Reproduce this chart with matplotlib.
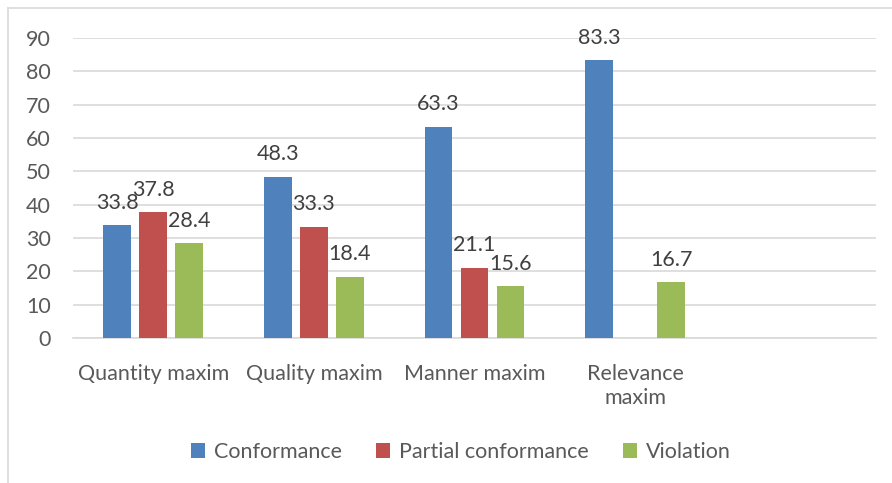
import matplotlib.pyplot as plt
import numpy as np
from matplotlib.lines import Line2D

# Share of responses per maxim (%)
maxims = ["Quantity maxim", "Quality maxim", "Manner maxim", "Relevance\nmaxim", ""]
series = ["Conformance", "Partial conformance", "Violation"]
conformance = [33.8, 48.3, 63.3, 83.3, np.nan]
partial = [37.8, 33.3, 21.1, np.nan, np.nan]
violation = [28.4, 18.4, 15.6, 16.7, np.nan]
colors = ["#4F81BD", "#C0504D", "#9BBB59"]

plt.rcParams['font.family'] = ['Lato', 'DejaVu Sans']
FS = 15.5
W, H = 892, 483
fig = plt.figure(figsize=(W / 100, H / 100), dpi=100)
ax = fig.add_axes([73 / W, 1 - 338 / H, (876 - 73) / W, (338 - 38) / H])

x = np.arange(len(maxims))
bar_w = 0.174
step = 0.224
for i, (vals, col, name) in enumerate(zip([conformance, partial, violation], colors, series)):
    pos = x + (i - 1) * step
    ax.bar(pos, vals, bar_w, color=col, label=name, zorder=3)
    for p, v in zip(pos, vals):
        if np.isnan(v):
            continue
        ax.annotate(f"{v:.1f}", (p, v), xytext=(0, 9), textcoords="offset points",
                    ha="center", va="bottom", fontsize=FS, color="#404040")

ax.set_xlim(-0.5, len(maxims) - 0.5)
ax.set_ylim(0, 90)
ax.set_yticks(range(0, 91, 10))
ax.set_xticks(x)
ax.set_xticklabels(maxims, fontsize=FS, color="#595959", linespacing=1.25)
ax.tick_params(axis="y", labelsize=FS, labelcolor="#595959", length=0, pad=16)
ax.tick_params(axis="x", length=0, pad=19)
ax.grid(axis="y", color="#D9D9D9", linewidth=1.2, zorder=0)
for s in ["top", "right", "left"]:
    ax.spines[s].set_visible(False)
ax.spines["bottom"].set_color("#D9D9D9")
ax.spines["bottom"].set_linewidth(1.2)

fig.legend(loc="center", bbox_to_anchor=(461 / W, 1 - 452 / H), ncol=3, frameon=False,
           fontsize=FS, handlelength=0.65, handleheight=0.65, handletextpad=0.4,
           columnspacing=1.6, labelcolor="#595959")

# chart frame: top and left edges
fig.add_artist(Line2D([8 / W, 8 / W], [0, 1 - 8 / H], transform=fig.transFigure,
                      color="#D9D9D9", linewidth=1.2))
fig.add_artist(Line2D([8 / W, 1], [1 - 8 / H, 1 - 8 / H], transform=fig.transFigure,
                      color="#D9D9D9", linewidth=1.2))

fig.savefig("out.png", dpi=100, facecolor="white")
